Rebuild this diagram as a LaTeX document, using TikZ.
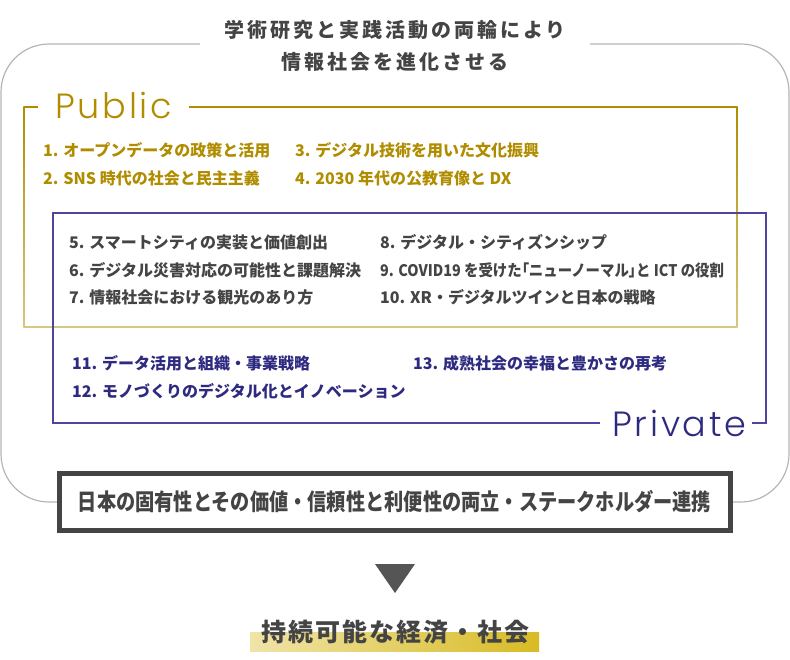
\documentclass[tikz,border=0pt]{standalone}
\usepackage{fontspec}
\usepackage{graphicx}
\setmainfont{Noto Sans CJK JP}
\newfontfamily\jp{Noto Sans CJK JP}
\newfontfamily\jppalt{Noto Sans CJK JP}[RawFeature=+palt]
\newfontfamily\jptitle{Noto Sans CJK JP}[LetterSpace=15]
\newfontfamily\jpfin{Noto Sans CJK JP}[LetterSpace=8]
\IfFontExistsTF{Poppins Light}{\newfontfamily\lat{Poppins Light}[LetterSpace=8]}{\newfontfamily\lat{Poppins}[LetterSpace=8]}
\definecolor{gold}{HTML}{B08D00}
\definecolor{goldlight}{HTML}{D8C780}
\definecolor{navy}{HTML}{2E2A80}
\definecolor{purpleline}{HTML}{4F45A0}
\definecolor{txtgray}{HTML}{444444}
\definecolor{outergray}{HTML}{B5B5B5}
\definecolor{arrowgray}{HTML}{555555}
\definecolor{barleft}{HTML}{F0E4A8}
\definecolor{barright}{HTML}{D8BB24}
\tikzset{
  itemtext/.style={anchor=west, inner sep=0pt, font=\jp\bfseries\fontsize{16pt}{16pt}\selectfont},
  pubitem/.style={itemtext, text=gold},
  mixitem/.style={itemtext, text=txtgray},
  privitem/.style={itemtext, text=navy},
  bigword/.style={anchor=base west, inner sep=0pt, font=\lat\fontsize{35pt}{35pt}\selectfont},
}
\newcommand{\pbr}[1]{{\jppalt\bfseries #1}}
\begin{document}
\begin{tikzpicture}[x=1pt,y=-1pt]
\useasboundingbox (0,0) rectangle (790,659);
% outer rounded frame
\draw[outergray, line width=1.2pt, rounded corners=48pt] (200,44) -- (1,44) -- (1,502) -- (789,502) -- (789,44) -- (590,44);
\node[font=\jptitle\bfseries\fontsize{20pt}{32pt}\selectfont, text=txtgray, align=center, inner sep=0pt] (title) at (395,46) {学術研究と実践活動の両輪により\\情報社会を進化させる};

% Public frame
\shade[top color=gold, bottom color=goldlight] (23.3,106.3) rectangle (24.7,327.7);
\shade[top color=gold, bottom color=goldlight] (736.3,106.3) rectangle (737.7,327.7);
\draw[goldlight, line width=1.4pt] (24,327) -- (737,327);
\draw[gold, line width=1.4pt] (38,107) -- (24,107);
\draw[gold, line width=1.4pt] (189,107) -- (737,107);
\node[bigword, text=gold] (public) at (55,118) {Public};

% Private frame
\draw[purpleline, line width=1.3pt] (600,423) -- (53,423) -- (53,213) -- (766,213) -- (766,423) -- (752,423);
\node[bigword, text=navy] (private) at (612,436) {Private};

% items
\node[pubitem] (i1) at (43,150) {1. オープンデータの政策と活用};
\node[pubitem] (i2) at (43,178) {2. SNS 時代の社会と民主主義};
\node[pubitem] (i3) at (295,150) {3. デジタル技術を用いた文化振興};
\node[pubitem] (i4) at (295,178) {4. 2030 年代の公教育像と DX};

\node[mixitem] (i5) at (69,242) {5. スマートシティの実装と価値創出};
\node[mixitem] (i6) at (69,270) {6. デジタル災害対応の可能性と課題解決};
\node[mixitem] (i7) at (69,297) {7. 情報社会における観光のあり方};
\node[mixitem] (i8) at (380,242) {8. デジタル・シティズンシップ};
\node[mixitem] (i9) at (380,270) {\scalebox{0.9}[1]{9. COVID19 を受けた\pbr{「}ニューノーマル\pbr{」}と ICT の役割}};
\node[mixitem] (i10) at (380,297) {10. XR・デジタルツインと日本の戦略};

\node[privitem] (i11) at (72,363) {11. データ活用と組織・事業戦略};
\node[privitem] (i12) at (72,391) {12. モノづくりのデジタル化とイノベーション};
\node[privitem] (i13) at (413,363) {13. 成熟社会の幸福と豊かさの再考};

% bottom box
\node[draw=txtgray, line width=5pt, fill=white, minimum width=671pt, minimum height=57pt, inner sep=0pt,
      font=\jp\bfseries\fontsize{23pt}{23pt}\selectfont, text=txtgray] (base) at (394.5,501.5)
      {\scalebox{0.835}[1]{日本の固有性とその価値・信頼性と利便性の両立・ステークホルダー連携}};

% arrow
\fill[arrowgray] (375,564) -- (415,564) -- (395,593) -- cycle;

% final
\shade[left color=barleft, right color=barright] (250,632) rectangle (539,651);
\node[font=\jpfin\bfseries\fontsize{25pt}{25pt}\selectfont, text=txtgray, inner sep=0pt] (goal) at (395,632) {持続可能な経済・社会};
\end{tikzpicture}
\end{document}
